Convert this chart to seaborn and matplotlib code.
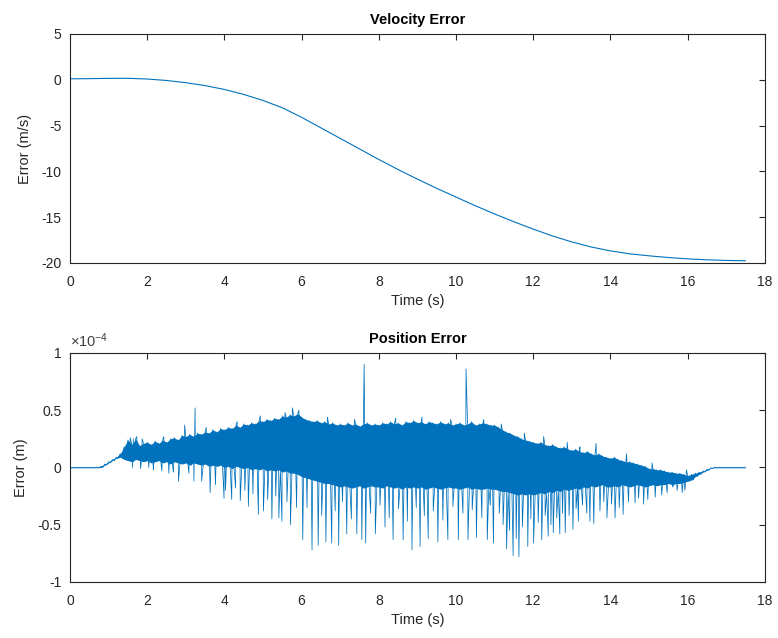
import numpy as np
import pandas as pd
import matplotlib
matplotlib.use("Agg")
import matplotlib.pyplot as plt
import seaborn as sns
from matplotlib.ticker import FuncFormatter, MultipleLocator

# ---------------- data ----------------
# Velocity error (m/s), sampled every 0.5 s
vel_time = np.arange(0, 17.51, 0.5)
vel_error = [0.10, 0.12, 0.15, 0.16, 0.08, -0.08, -0.32, -0.64, -1.06, -1.60,
             -2.26, -3.06, -4.10, -5.25, -6.40, -7.55, -8.70, -9.80, -10.85, -11.85,
             -12.80, -13.75, -14.65, -15.50, -16.30, -17.05, -17.70, -18.25, -18.68, -19.00,
             -19.22, -19.40, -19.55, -19.65, -19.72, -19.76]

# Position error (x1e-4 m): upper / lower edge of the dense oscillation band, every 0.1 s
band_time = np.round(np.arange(0, 17.5001, 0.1), 2)
band_top = [
    0.003, 0.003, 0.003, 0.003, 0.003, 0.003, 0.003, 0.004, 0.01, 0.03,
    0.05, 0.07, 0.09, 0.12, 0.18, 0.24, 0.20, 0.25, 0.19, 0.21,
    0.22, 0.20, 0.23, 0.21, 0.24, 0.22, 0.25, 0.26, 0.24, 0.28,
    0.27, 0.29, 0.27, 0.30, 0.29, 0.31, 0.30, 0.33, 0.31, 0.34,
    0.33, 0.35, 0.34, 0.37, 0.35, 0.38, 0.37, 0.39, 0.38, 0.41,
    0.40, 0.42, 0.41, 0.43, 0.42, 0.45, 0.44, 0.46, 0.45, 0.47,
    0.44, 0.42, 0.41, 0.40, 0.41, 0.39, 0.40, 0.38, 0.39, 0.37,
    0.38, 0.37, 0.39, 0.37, 0.38, 0.36, 0.38, 0.39, 0.37, 0.38,
    0.37, 0.39, 0.38, 0.40, 0.38, 0.39, 0.37, 0.40, 0.39, 0.41,
    0.39, 0.40, 0.38, 0.40, 0.39, 0.38, 0.40, 0.38, 0.39, 0.37,
    0.38, 0.39, 0.37, 0.38, 0.40, 0.37, 0.38, 0.39, 0.38, 0.37,
    0.37, 0.35, 0.33, 0.31, 0.30, 0.28, 0.27, 0.25, 0.24, 0.23,
    0.22, 0.21, 0.22, 0.20, 0.19, 0.20, 0.18, 0.17, 0.18, 0.16,
    0.15, 0.16, 0.14, 0.13, 0.14, 0.12, 0.11, 0.12, 0.10, 0.09,
    0.08, 0.09, 0.07, 0.06, 0.05, 0.05, 0.04, 0.03, 0.02, 0.01,
    -0.01, -0.01, -0.02, -0.02, -0.03, -0.04, -0.04, -0.05, -0.05, -0.06,
    -0.07, -0.06, -0.05, -0.04, -0.03, -0.015, -0.003, 0.003, 0.003, 0.003,
    0.003, 0.003, 0.003, 0.003, 0.003, 0.003]
band_bottom = [
    -0.003, -0.003, -0.003, -0.003, -0.003, -0.003, -0.003, -0.003, 0.0, 0.02,
    0.04, 0.06, 0.08, 0.09, 0.07, 0.06, 0.05, 0.07, 0.06, 0.05,
    0.06, 0.04, 0.05, 0.06, 0.04, 0.05, 0.03, 0.05, 0.04, 0.03,
    0.04, 0.02, 0.04, 0.03, 0.02, 0.03, 0.01, 0.02, 0.01, 0.02,
    0.00, 0.01, -0.01, 0.01, 0.00, -0.01, 0.00, -0.02, -0.01, -0.02,
    -0.01, -0.03, -0.02, -0.03, -0.02, -0.04, -0.03, -0.05, -0.05, -0.06,
    -0.08, -0.09, -0.10, -0.11, -0.12, -0.13, -0.14, -0.14, -0.15, -0.16,
    -0.17, -0.16, -0.17, -0.18, -0.17, -0.16, -0.18, -0.17, -0.16, -0.17,
    -0.17, -0.18, -0.16, -0.17, -0.18, -0.17, -0.19, -0.17, -0.18, -0.17,
    -0.18, -0.17, -0.19, -0.18, -0.17, -0.18, -0.19, -0.18, -0.17, -0.18,
    -0.18, -0.19, -0.18, -0.17, -0.19, -0.18, -0.19, -0.19, -0.18, -0.19,
    -0.19, -0.20, -0.21, -0.21, -0.22, -0.23, -0.24, -0.23, -0.24, -0.23,
    -0.24, -0.23, -0.22, -0.23, -0.21, -0.22, -0.20, -0.21, -0.19, -0.20,
    -0.19, -0.18, -0.19, -0.17, -0.18, -0.16, -0.17, -0.16, -0.15, -0.17,
    -0.17, -0.16, -0.17, -0.15, -0.16, -0.17, -0.16, -0.15, -0.16, -0.17,
    -0.16, -0.15, -0.16, -0.15, -0.15, -0.14, -0.15, -0.14, -0.14, -0.13,
    -0.12, -0.11, -0.08, -0.06, -0.04, -0.025, -0.008, -0.003, -0.003, -0.003,
    -0.003, -0.003, -0.003, -0.003, -0.003, -0.003]

# Isolated spikes above the band (time s, value x1e-4 m)
spike_up_time = [1.56, 1.64, 1.73, 1.87, 2.43, 2.97, 3.24, 3.53, 4.33, 4.93,
                 5.57, 5.76, 5.93, 6.67, 7.37, 7.62, 8.44, 9.12, 9.86, 10.26,
                 10.72, 11.17, 11.77, 12.27, 12.88, 13.21, 13.63, 14.42, 15.08, 15.97]
spike_up_value = [0.26, 0.25, 0.27, 0.25, 0.27, 0.37, 0.52, 0.35, 0.40, 0.45,
                  0.48, 0.52, 0.50, 0.44, 0.42, 0.90, 0.43, 0.44, 0.42, 0.86,
                  0.42, 0.38, 0.30, 0.27, 0.22, 0.18, 0.21, 0.12, 0.04, -0.02]

# Isolated spikes below the band (time s, value x1e-4 m)
spike_down_time = [1.62, 1.83, 2.04, 2.16, 2.38, 2.56, 2.68, 2.81, 3.08, 3.21,
                   3.41, 3.63, 3.77, 3.99, 4.03, 4.19, 4.29, 4.41, 4.53, 4.62,
                   4.74, 4.88, 5.01, 5.12, 5.23, 5.33, 5.41, 5.49, 5.62, 5.71,
                   5.87, 6.03, 6.14, 6.27, 6.43, 6.52, 6.63, 6.78, 6.87, 6.96,
                   7.06, 7.17, 7.29, 7.43, 7.56, 7.66, 7.79, 7.91, 8.03, 8.16,
                   8.27, 8.37, 8.51, 8.63, 8.74, 8.86, 8.97, 9.07, 9.18, 9.28,
                   9.41, 9.53, 9.66, 9.79, 9.92, 10.06, 10.18, 10.31, 10.42, 10.53,
                   10.67, 10.81, 10.89, 10.97, 11.12, 11.22, 11.31, 11.39, 11.48, 11.56,
                   11.63, 11.72, 11.86, 11.94, 12.01, 12.13, 12.22, 12.31, 12.39, 12.46,
                   12.52, 12.61, 12.69, 12.76, 12.83, 12.93, 13.03, 13.11, 13.17, 13.28,
                   13.39, 13.47, 13.57, 13.73, 13.83, 13.91, 14.03, 14.12, 14.23, 14.33,
                   14.47, 14.64, 14.73, 14.86, 14.97, 15.16, 15.33, 15.47, 15.61, 15.73,
                   15.86, 15.93]
spike_down_value = [0.00, -0.01, 0.00, -0.02, -0.03, -0.05, -0.04, -0.12, -0.05, -0.12,
                    -0.12, -0.22, -0.15, -0.27, -0.20, -0.28, -0.18, -0.29, -0.20, -0.34,
                    -0.23, -0.41, -0.38, -0.28, -0.45, -0.25, -0.44, -0.47, -0.30, -0.50,
                    -0.35, -0.63, -0.35, -0.72, -0.68, -0.42, -0.65, -0.66, -0.38, -0.68,
                    -0.30, -0.58, -0.45, -0.58, -0.63, -0.66, -0.40, -0.58, -0.33, -0.52,
                    -0.44, -0.63, -0.36, -0.63, -0.47, -0.72, -0.35, -0.69, -0.42, -0.62,
                    -0.38, -0.65, -0.46, -0.63, -0.34, -0.63, -0.40, -0.63, -0.37, -0.61,
                    -0.44, -0.63, -0.33, -0.66, -0.40, -0.50, -0.71, -0.55, -0.77, -0.62,
                    -0.78, -0.52, -0.69, -0.45, -0.66, -0.48, -0.63, -0.42, -0.60, -0.50,
                    -0.57, -0.44, -0.58, -0.40, -0.57, -0.42, -0.54, -0.36, -0.47, -0.33,
                    -0.40, -0.47, -0.49, -0.38, -0.30, -0.44, -0.32, -0.44, -0.35, -0.41,
                    -0.30, -0.31, -0.27, -0.32, -0.28, -0.26, -0.24, -0.22, -0.17, -0.20,
                    -0.22, -0.20]

x_ticks = [0, 2, 4, 6, 8, 10, 12, 14, 16, 18]

# ---------------- style ----------------
sns.set_theme(style="white")
plt.rcParams["font.family"] = ["Liberation Sans", "DejaVu Sans"]
plt.rcParams["axes.unicode_minus"] = False
plt.rcParams["mathtext.default"] = "regular"

LINE = "#0072BD"
DARK = "#262626"

vel_df = pd.DataFrame({"time": vel_time, "error": vel_error})

pos_df = pd.DataFrame({
    "time": np.concatenate([band_time, band_time + 0.05, spike_up_time, spike_down_time]),
    "error": np.concatenate([band_top, band_bottom, spike_up_value, spike_down_value]),
})
pos_df = pos_df[pos_df["time"] <= 17.5].sort_values("time", kind="mergesort").reset_index(drop=True)

fig = plt.figure(figsize=(7.78, 6.38), dpi=100)
ax1 = fig.add_axes([0.090, 0.5878, 0.893, 0.359])
ax2 = fig.add_axes([0.090, 0.0878, 0.893, 0.359])

sns.lineplot(data=vel_df, x="time", y="error", ax=ax1, color=LINE, linewidth=0.8,
             estimator=None, sort=True)

ax2.fill_between(band_time, band_bottom, band_top, color=LINE, linewidth=0)
sns.lineplot(data=pos_df, x="time", y="error", ax=ax2, color=LINE, linewidth=0.55,
             estimator=None, sort=False)

fmt = FuncFormatter(lambda v, p: "0" if abs(v) < 1e-12 else f"{v:g}")

for ax in (ax1, ax2):
    ax.set_xlim(0, 18)
    ax.set_xticks(x_ticks)
    ax.xaxis.set_major_formatter(fmt)
    ax.yaxis.set_major_formatter(fmt)
    ax.tick_params(direction="in", top=True, right=True, length=4, width=0.8,
                   colors=DARK, labelsize=10)
    ax.tick_params(axis="x", pad=9)
    ax.tick_params(axis="y", pad=6)
    for s in ax.spines.values():
        s.set_color(DARK)
        s.set_linewidth(0.8)
    ax.set_xlabel("Time (s)", fontsize=10.5, color=DARK, labelpad=3)
    ax.grid(False)

ax1.set_ylim(-20, 5)
ax1.yaxis.set_major_locator(MultipleLocator(5))
ax1.set_ylabel("Error (m/s)", fontsize=10.5, color=DARK, labelpad=7)
ax1.set_title("Velocity Error", fontsize=10.5, fontweight="bold", color="black", pad=7)

ax2.set_ylim(-1, 1)
ax2.yaxis.set_major_locator(MultipleLocator(0.5))
ax2.set_ylabel("Error (m)", fontsize=10.5, color=DARK, labelpad=7)
ax2.set_title("Position Error", fontsize=10.5, fontweight="bold", color="black", pad=7)
ax2.text(0.0, 1.012, r"×10$^{-4}$", transform=ax2.transAxes, fontsize=10.5,
         color="#404040", ha="left", va="bottom")

fig.savefig("out.png", dpi=100)
